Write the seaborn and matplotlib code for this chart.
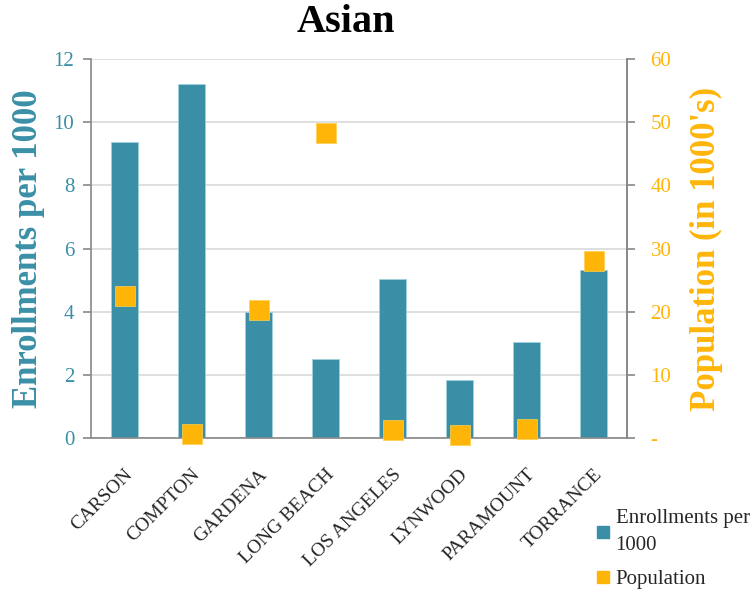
import pandas as pd
import numpy as np
import matplotlib.pyplot as plt
import seaborn as sns
from matplotlib.lines import Line2D
from matplotlib.ticker import FixedLocator

# Data
cities = ['CARSON', 'COMPTON', 'GARDENA', 'LONG BEACH', 'LOS ANGELES', 'LYNWOOD', 'PARAMOUNT', 'TORRANCE']
enrollments = [9.36, 11.2, 4.0, 2.5, 5.05, 1.83, 3.03, 5.31]
population = [22.5, 0.7, 20.3, 48.3, 1.2, 0.5, 1.4, 28.0]
left_ticks = [0, 2, 4, 6, 8, 10, 12]
right_ticks = [0, 10, 20, 30, 40, 50, 60]
right_labels = ['-', '10', '20', '30', '40', '50', '60']

teal = '#3A8FA6'
orange = '#FFB508'
serif = ['Liberation Serif', 'DejaVu Serif']

df = pd.DataFrame({'City': cities, 'Enrollments': enrollments, 'Population': population})

sns.set_style('white')
plt.rcParams['font.family'] = serif

fig = plt.figure(figsize=(7.51, 5.94), dpi=100)
ax = fig.add_axes([91 / 751, 1 - 438 / 594, (627 - 91) / 751, (438 - 59) / 594])

# Bars
sns.barplot(data=df, x='City', y='Enrollments', color=teal, saturation=1, width=0.4,
            edgecolor='#9FD0DC', linewidth=0.6, ax=ax, zorder=2)
ax.set_ylim(0, 12)
ax.set_xlim(-0.5, 7.5)
ax.set_yticks(left_ticks)
ax.set_yticklabels([str(t) for t in left_ticks], color=teal, fontsize=15)
ax.yaxis.grid(True, color='#D9D9D9', linewidth=1.2, zorder=0)
ax.set_axisbelow(True)

# Category ticks between groups
ax.set_xticks(range(len(cities)))
ax.set_xticklabels(cities, rotation=45, ha='right', rotation_mode='anchor', fontsize=14)
ax.tick_params(axis='x', which='major', length=0, pad=20)
ax.xaxis.set_minor_locator(FixedLocator(np.arange(-0.5, 8, 1)))
ax.tick_params(axis='x', which='minor', length=6, color='#888888', width=1.2, direction='out')
ax.tick_params(axis='y', length=6, color='#888888', width=1.2, direction='out', left=True, pad=6)
ax.set_xlabel('')
ax.set_ylabel('Enrollments per 1000', color=teal, fontsize=25, fontweight='bold', labelpad=6)

ax.spines['top'].set_visible(False)
for side in ['left', 'bottom', 'right']:
    ax.spines[side].set_color('#888888')
    ax.spines[side].set_linewidth(1.2)

# Population on secondary axis
ax2 = ax.twinx()
sns.scatterplot(data=df, x='City', y='Population', marker='s', s=190, color=orange,
                edgecolor='#FFD050', linewidth=0.5, ax=ax2, zorder=3, legend=False, clip_on=False)
ax2.set_ylim(0, 60)
ax2.set_xlim(-0.5, 7.5)
ax2.set_yticks(right_ticks)
ax2.set_yticklabels(right_labels, color=orange, fontsize=15)
ax2.tick_params(axis='y', length=6, color='#888888', width=1.2, direction='out', right=True, pad=11)
ax2.set_ylabel("Population (in 1000's)", color=orange, fontsize=25, fontweight='bold', labelpad=13)
ax2.set_xlabel('')
for side in ['top', 'left', 'bottom']:
    ax2.spines[side].set_visible(False)
ax2.spines['right'].set_color('#888888')
ax2.spines['right'].set_linewidth(1.2)

fig.text(346 / 751, 1 - 22 / 594, 'Asian', ha='center', va='center', fontsize=29, fontweight='bold', color='black')

handles = [
    Line2D([], [], marker='s', linestyle='', color=teal, markersize=9),
    Line2D([], [], marker='s', linestyle='', color=orange, markersize=9),
]
leg = fig.legend(handles, ['Enrollments per\n1000', 'Population'], loc='upper left',
                 bbox_to_anchor=(578 / 751, 1 - 490 / 594), frameon=False, fontsize=15,
                 handlelength=0.6, handletextpad=0.3, labelspacing=0.7)
for t in leg.get_texts():
    t.set_linespacing(1.6)

fig.savefig('out.png', dpi=100)
